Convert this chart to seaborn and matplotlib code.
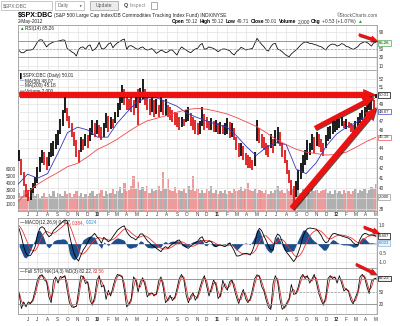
import matplotlib
matplotlib.use("Agg")
import numpy as np
import pandas as pd
import matplotlib.pyplot as plt
import matplotlib.dates as mdates
import matplotlib.ticker as mticker
import matplotlib.patheffects as pe
from matplotlib.patches import Rectangle, FancyArrowPatch
import seaborn as sns

# ---------------- data (weekly samples) ----------------
week_start, week_end = "2009-05-06", "2012-05-02"
month_start, month_end = "2009-05-01", "2012-05-01"

price_high = [
    43.8, 42.9, 41.6, 40.4, 39.8, 40.0, 40.5, 41.1, 42.1, 43.1,
    43.8, 43.6, 43.1, 43.6, 44.6, 44.8, 45.6, 46.0, 47.2, 48.3,
    49.8, 48.5, 47.6, 46.8, 45.8, 44.9, 43.8, 45.2, 45.0, 45.6,
    45.4, 46.2, 47.1, 46.8, 47.1, 46.6, 46.3, 46.8, 47.9, 47.6,
    47.5, 47.2, 48.0, 49.1, 50.0, 51.2, 50.7, 50.2, 49.6, 49.8,
    49.4, 50.3, 50.8, 50.9, 52.0, 50.7, 50.2, 49.6, 50.2, 49.4,
    49.5, 48.9, 49.8, 49.4, 49.5, 48.9, 48.6, 48.3, 48.0, 47.9,
    47.4, 47.5, 47.2, 48.3, 48.6, 47.9, 47.4, 47.1, 46.8, 47.0,
    48.6, 47.8, 47.4, 47.0, 47.3, 47.0, 47.1, 46.8, 46.9, 46.6,
    46.8, 47.3, 46.9, 46.8, 46.2, 45.2, 44.6, 44.6, 44.2, 43.5,
    43.3, 43.1, 42.8, 43.6, 47.1, 46.2, 45.6, 45.2, 44.6, 44.4,
    45.6, 45.0, 46.0, 46.3, 45.8, 44.6, 43.8, 42.8, 41.8, 40.8,
    40.2, 40.7, 41.8, 42.5, 43.3, 43.8, 44.9, 44.6, 45.6, 45.2,
    45.8, 45.6, 45.0, 44.6, 45.4, 46.3, 46.4, 47.1, 47.0, 47.4,
    47.2, 47.4, 47.0, 47.2, 46.9, 46.8, 46.5, 47.0, 47.5, 47.9,
    48.3, 48.6, 49.1, 49.4, 50.0, 49.4, 50.12]
price_low = [
    42.7, 41.3, 40.2, 39.1, 38.8, 38.9, 39.5, 40.0, 40.5, 41.6,
    42.5, 42.3, 41.8, 42.2, 43.1, 43.2, 43.9, 44.4, 45.6, 46.4,
    47.9, 47.0, 46.2, 45.2, 44.2, 43.1, 42.5, 43.6, 43.8, 44.2,
    44.0, 44.8, 45.4, 45.2, 45.6, 45.2, 44.9, 45.2, 46.2, 45.8,
    46.1, 46.2, 46.8, 47.4, 48.3, 49.1, 48.9, 48.3, 48.3, 48.0,
    47.7, 48.5, 46.6, 49.1, 49.6, 48.9, 48.3, 47.7, 48.0, 47.4,
    47.8, 47.4, 48.0, 47.7, 47.6, 47.4, 47.1, 46.9, 46.5, 46.3,
    46.0, 46.3, 46.4, 46.9, 47.0, 46.4, 46.0, 45.6, 45.4, 45.5,
    46.4, 46.0, 46.2, 46.0, 46.0, 45.8, 45.8, 45.6, 45.6, 45.5,
    45.4, 45.6, 45.1, 45.2, 44.9, 43.8, 43.1, 43.2, 42.8, 42.3,
    42.0, 42.0, 41.8, 42.2, 44.8, 44.6, 44.0, 43.8, 43.3, 43.1,
    44.0, 43.5, 44.2, 44.6, 44.2, 43.1, 42.5, 41.4, 40.5, 39.3,
    38.2, 39.1, 39.8, 40.9, 41.5, 42.3, 42.8, 43.3, 43.8, 43.5,
    44.2, 44.1, 43.6, 43.2, 44.0, 44.8, 45.0, 45.6, 45.8, 46.0,
    46.2, 46.4, 46.2, 46.1, 46.2, 45.8, 45.5, 45.9, 46.4, 46.8,
    47.1, 47.5, 47.9, 48.3, 48.3, 48.4, 49.71]
volume = [
    2600, 2200, 3000, 2400, 2800, 2000, 2600, 2200, 2400, 1800,
    2200, 2600, 2000, 2400, 2200, 2800, 2000, 2600, 2400, 2200,
    2800, 2400, 2600, 2000, 2400, 2800, 2200, 2600, 2000, 2400,
    2200, 2600, 2800, 2200, 2400, 2600, 3000, 2200, 2800, 2400,
    2600, 3200, 2400, 2800, 3400, 2600, 4000, 2800, 3000, 3600,
    5000, 3200, 4200, 3000, 3400, 2800, 3600, 2600, 3200, 2800,
    3000, 3600, 2800, 5500, 3200, 4500, 3000, 2800, 3400, 2600,
    3000, 2800, 3200, 2600, 3600, 3000, 5000, 2800, 3200, 2600,
    3000, 2600, 3200, 2800, 3500, 2600, 3000, 2400, 2800, 2600,
    3000, 2400, 2800, 2600, 3200, 2800, 3000, 3400, 2800, 3200,
    4000, 3000, 2800, 3200, 2600, 3000, 2800, 2600, 3000, 2400,
    2800, 2600, 3000, 3600, 2800, 3000, 2600, 3200, 2800, 3000,
    3200, 2800, 3000, 2600, 3200, 2800, 3000, 2600, 3600, 2800,
    3000, 2600, 2800, 3000, 3200, 2600, 2800, 2400, 3000, 2600,
    2800, 2400, 3000, 2600, 2800, 2400, 2800, 3200, 2600, 3000,
    2800, 3200, 2600, 3000, 3400, 3200, 3800]
rsi = [
    46, 41, 41, 46, 47.5, 47.5, 49, 57, 67, 72,
    72, 64, 55, 61, 64, 67, 68, 69, 70, 72,
    71, 51, 47.5, 43, 40, 33, 49, 54, 55, 49,
    57, 60, 46, 49, 55, 66, 51, 50, 55, 62,
    65, 53, 60, 65, 68, 72, 74, 49, 57, 58,
    55, 51, 49, 53, 55, 50, 47.5, 49, 51, 46,
    39.5, 43, 47.5, 45, 41, 43, 47.5, 47.5, 41, 35.5,
    47.5, 55, 51, 47.5, 43.5, 41, 46, 50, 51.5, 59,
    63.5, 49, 51, 55, 53, 51.5, 47.5, 43.5, 47.5, 50,
    50, 48, 46, 39.5, 35.5, 43.5, 47.5, 54, 51.5, 47.5,
    49, 50, 51.5, 63.5, 75.6, 68, 61, 55.5, 47.5, 45,
    55.5, 62, 63.5, 50, 47.5, 43.5, 38, 34, 31.4, 38,
    43, 47.5, 53, 59, 64, 67, 66, 63.5, 63, 61,
    59.6, 57, 55.5, 51.5, 47.5, 55.5, 60, 62, 61, 57,
    59, 63, 61, 56, 55, 51.5, 49, 52, 55.5, 62,
    65, 67.6, 66, 62, 57, 65, 65.26]
macd = [
    0.8, 0.37, -0.16, -0.52, -0.66, -0.63, -0.43, -0.16, 0.46, 0.82,
    0.91, 0.82, 0.55, 0.37, 0.46, 0.7, 0.82, 0.95, 1.05, 1.18,
    1.27, 1.23, 0.46, -0.07, -0.52, -0.79, -0.93, -0.61, -0.34, -0.16,
    0.07, 0.29, 0.41, 0.55, 0.37, 0.23, 0.02, 0.34, 0.23, 0.1,
    0.2, 0.37, 0.55, 0.73, 0.82, 0.91, 0.95, 0.64, 0.46, 0.34,
    0.29, 0.2, 0.34, 0.52, 0.52, 0.34, 0.16, 0.05, -0.07, -0.16,
    -0.25, -0.34, -0.43, -0.25, -0.16, -0.25, -0.12, -0.02, 0.05, 0.16,
    0.2, 0.02, -0.09, -0.2, -0.25, -0.12, -0.04, 0.05, 0.12, 0.29,
    0.37, 0.1, 0.05, 0.16, 0.1, -0.07, -0.16, -0.11, -0.07, -0.12,
    -0.16, -0.07, 0.02, -0.16, -0.38, -0.66, -0.66, -0.61, -0.55, -0.52,
    -0.55, -0.61, -0.38, -0.02, 0.55, 0.82, 0.7, 0.41, 0.16, -0.12,
    -0.34, -0.34, 0.29, 0.52, 0.41, 0.1, -0.25, -0.48, -0.63, -0.8,
    -0.96, -0.79, -0.48, -0.12, 0.34, 0.64, 0.8, 0.84, 0.82, 0.8,
    0.77, 0.62, 0.45, 0.2, 0.05, 0.1, 0.34, 0.52, 0.55, 0.5,
    0.46, 0.41, 0.37, 0.34, 0.29, 0.2, 0.05, -0.04, -0.07, 0.23,
    0.46, 0.55, 0.52, 0.45, 0.48, 0.45, 0.407]
macd_signal = [
    0.95, 0.8, 0.55, 0.25, -0.05, -0.28, -0.4, -0.38, -0.2, 0.1,
    0.38, 0.58, 0.66, 0.6, 0.55, 0.56, 0.62, 0.72, 0.82, 0.92,
    1.03, 1.12, 1.0, 0.7, 0.35, 0.0, -0.35, -0.55, -0.55, -0.45,
    -0.3, -0.12, 0.05, 0.2, 0.3, 0.33, 0.28, 0.25, 0.24, 0.2,
    0.18, 0.22, 0.3, 0.42, 0.55, 0.68, 0.78, 0.78, 0.7, 0.58,
    0.48, 0.38, 0.33, 0.36, 0.42, 0.42, 0.36, 0.27, 0.16, 0.05,
    -0.05, -0.15, -0.25, -0.3, -0.28, -0.27, -0.23, -0.16, -0.08, 0.0,
    0.08, 0.1, 0.06, -0.02, -0.1, -0.15, -0.14, -0.09, -0.03, 0.06,
    0.15, 0.18, 0.16, 0.14, 0.13, 0.08, 0.0, -0.06, -0.08, -0.1,
    -0.12, -0.11, -0.08, -0.09, -0.16, -0.3, -0.42, -0.5, -0.55, -0.56,
    -0.55, -0.56, -0.52, -0.42, -0.2, 0.08, 0.3, 0.42, 0.42, 0.3,
    0.15, 0.0, 0.02, 0.12, 0.22, 0.22, 0.12, -0.05, -0.22, -0.4,
    -0.58, -0.7, -0.7, -0.58, -0.38, -0.1, 0.18, 0.4, 0.56, 0.66,
    0.72, 0.72, 0.66, 0.55, 0.4, 0.28, 0.25, 0.3, 0.38, 0.43,
    0.46, 0.46, 0.44, 0.41, 0.37, 0.32, 0.24, 0.14, 0.05, 0.05,
    0.14, 0.26, 0.36, 0.41, 0.43, 0.42, 0.384]
sto_k = [
    45, 10, 26, 14, 26, 22, 32, 54, 79, 89,
    91, 79, 74, 38, 24, 78, 86, 71, 87, 84,
    89, 54, 24, 14, 13, 16, 54, 89, 86, 70,
    74, 30, 18, 38, 78, 89, 62, 66, 32, 54,
    40, 62, 82, 92, 89, 86, 54, 14, 21, 34,
    86, 78, 50, 74, 84, 66, 38, 46, 48, 40,
    46, 76, 86, 60, 24, 32, 42, 29, 37, 58,
    82, 92, 79, 42, 24, 40, 48, 30, 40, 60,
    78, 89, 63, 40, 60, 79, 66, 34, 42, 78,
    62, 54, 74, 79, 58, 37, 22, 42, 56, 34,
    24, 34, 56, 82, 91, 87, 63, 52, 30, 13,
    8, 70, 89, 74, 32, 8, 14, 24, 34, 68,
    44, 46, 62, 84, 92, 82, 89, 71, 81, 92,
    71, 46, 30, 18, 38, 82, 89, 82, 86, 71,
    89, 70, 52, 58, 50, 30, 21, 37, 50, 86,
    92, 84, 63, 46, 76, 81, 82.22]
sto_d = [
    50, 28, 18, 20, 20, 24, 27, 43, 66, 84,
    90, 85, 77, 56, 31, 51, 82, 79, 79, 86,
    87, 72, 39, 19, 14, 15, 35, 72, 88, 78,
    72, 52, 24, 28, 58, 84, 76, 64, 49, 43,
    47, 51, 72, 87, 91, 88, 70, 34, 18, 28,
    60, 82, 64, 62, 79, 75, 52, 42, 47, 44,
    43, 61, 81, 73, 42, 28, 37, 36, 33, 48,
    70, 87, 86, 61, 33, 32, 44, 39, 35, 50,
    69, 84, 76, 52, 50, 70, 73, 50, 38, 60,
    70, 58, 64, 77, 69, 48, 30, 32, 49, 45,
    29, 29, 45, 69, 87, 89, 75, 58, 41, 22,
    11, 39, 80, 82, 53, 20, 11, 19, 29, 51,
    56, 45, 54, 73, 88, 87, 86, 80, 76, 87,
    82, 59, 38, 24, 28, 60, 86, 86, 84, 79,
    80, 80, 61, 55, 54, 40, 26, 29, 44, 68,
    89, 88, 74, 55, 61, 79, 83.56]
# monthly samples of the moving averages
ma50 = [40.3, 41.35, 40.95, 41.4, 43.45, 45.7, 46.3, 46.0, 45.2, 45.2,
        46.7, 48.0, 49.2, 49.7, 49.7, 49.2, 48.7, 47.9, 47.4, 47.0,
        46.6, 46.3, 45.4, 44.2, 43.25, 44.1, 44.6, 44.4, 41.85, 41.4,
        42.5, 44.2, 45.5, 46.3, 46.8, 47.5, 48.07]
ma200 = [38.65, 39.6, 40.35, 40.95, 41.5, 42.1, 42.45, 43.1, 43.9, 44.4,
         44.95, 45.7, 46.4, 47.0, 47.3, 47.63, 48.0, 48.3, 48.45, 48.35,
         48.1, 47.8, 47.4, 46.9, 46.4, 45.7, 44.95, 44.4, 43.9, 43.6,
         43.45, 43.3, 43.35, 43.6, 44.1, 44.7, 45.18]

month_letters = ["J", "F", "M", "A", "M", "J", "J", "A", "S", "O", "N", "D"]
price_ticks = [38, 39, 40, 41, 42, 43, 44, 45, 46, 47, 48, 49, 50, 51, 52]
price_hidden = [39, 45, 48, 50]          # covered by the value boxes
volume_ticks = [1000, 2000, 3000, 4000, 5000, 6000]
rsi_ticks = [10, 30, 50, 70, 90]
rsi_hidden = [70]
macd_ticks = [-1.0, -0.5, 0.0, 0.5, 1.0]
macd_hidden = [0.0, 0.5]
sto_ticks = [20, 50, 80]
sto_hidden = [80]

# ---------------- figure ----------------
sns.set_theme(style="white")
plt.rcParams["font.family"] = ["Liberation Sans", "DejaVu Sans"]

weeks = pd.date_range(week_start, week_end, freq="W-WED")
months = pd.date_range(month_start, month_end, freq="MS")
df = pd.DataFrame({"date": weeks, "high": price_high, "low": price_low,
                   "volume": volume, "rsi": rsi, "macd": macd,
                   "signal": macd_signal, "k": sto_k, "d": sto_d})
df["hist"] = df["macd"] - df["signal"]
mf = pd.DataFrame({"date": months, "ma50": ma50, "ma200": ma200})

W, H = 400, 326
fig = plt.figure(figsize=(W / 100, H / 100), dpi=100)
fig.patch.set_facecolor("white")
L, R = 17.5, 377.0
TICK = 3.3


def rect(top, bottom):
    return [L / W, 1 - bottom / H, (R - L) / W, (bottom - top) / H]


def labels(ticks, hidden, fmt="%g"):
    return ["" if t in hidden else fmt % t for t in ticks]


ax_r = fig.add_axes(rect(25, 69.5))
ax_v = fig.add_axes(rect(69.5, 211), sharex=ax_r)
ax_p = fig.add_axes(rect(69.5, 211), sharex=ax_r)
ax_m = fig.add_axes(rect(218, 267.7), sharex=ax_r)
ax_s = fig.add_axes(rect(267.7, 314), sharex=ax_r)
ax_p.patch.set_alpha(0)

grid_months = months[1:]
for ax in (ax_r, ax_v, ax_p, ax_m, ax_s):
    for sp in ax.spines.values():
        sp.set_color("#9a9a9a")
        sp.set_linewidth(0.6)
    ax.set_xticks(grid_months)
    ax.tick_params(axis="x", length=0, labelbottom=False)
    ax.tick_params(axis="y", length=0, labelsize=TICK, pad=1.5, colors="#333333")
for ax in (ax_r, ax_p, ax_m, ax_s):
    ax.yaxis.tick_right()
    ax.grid(True, color="#e2e2e2", lw=0.5)
    ax.set_axisbelow(True)
ax_v.grid(False)
for sp in ax_p.spines.values():
    sp.set_visible(False)
ax_r.set_xlim(pd.Timestamp("2009-05-01"), pd.Timestamp("2012-05-05"))

# ---- RSI ----
sns.lineplot(data=df, x="date", y="rsi", ax=ax_r, color="black", lw=0.55)
ax_r.set_ylim(0.6, 107.8)
ax_r.set_yticks(rsi_ticks)
ax_r.set_yticklabels(labels(rsi_ticks, rsi_hidden))
for lv in (70, 30):
    ax_r.axhline(lv, color="#8c8c8c", lw=0.6)
ax_r.axhline(50, color="#999999", lw=0.5, ls=(0, (3, 2)))

# ---- volume ----
mid = (df["high"] + df["low"]) / 2
up = mid.diff().fillna(0) >= 0
vol_colors = np.where(up, "#a3a3a3", "#ec8a8a")
ax_v.bar(df["date"], df["volume"], width=7.2, color=vol_colors, alpha=0.85, lw=0)
ax_v.set_ylim(0, 20200)
ax_v.set_yticks(volume_ticks)
ax_v.set_yticklabels([str(t) for t in volume_ticks])
ax_v.tick_params(axis="y", labelsize=TICK, pad=1)

# ---- price ----
bar_colors = np.where(up, "black", "#dd1111")
ax_p.vlines(df["date"], df["low"], df["high"], colors=bar_colors, lw=1.25)
sns.lineplot(data=mf, x="date", y="ma50", ax=ax_p, color="#3535c0", lw=0.6)
sns.lineplot(data=mf, x="date", y="ma200", ax=ax_p, color="#f04848", lw=0.6)
ax_p.set_yscale("log")
ax_p.set_ylim(37.84, 53.2)
ax_p.yaxis.set_major_locator(mticker.FixedLocator(price_ticks))
ax_p.yaxis.set_major_formatter(mticker.FixedFormatter(labels(price_ticks, price_hidden)))
ax_p.yaxis.set_minor_locator(mticker.NullLocator())
ax_p.tick_params(axis="y", which="both", length=0, labelsize=TICK, pad=1.5, colors="#333333")

# ---- MACD ----
ax_m.fill_between(df["date"], df["hist"], 0, color="#1d4f8c", lw=0)
sns.lineplot(data=df, x="date", y="signal", ax=ax_m, color="#ee3333", lw=0.6)
sns.lineplot(data=df, x="date", y="macd", ax=ax_m, color="black", lw=0.6)
ax_m.set_ylim(-1.29, 1.375)
ax_m.set_yticks(macd_ticks)
ax_m.set_yticklabels(labels(macd_ticks, macd_hidden, "%.1f"))

# ---- STO ----
sns.lineplot(data=df, x="date", y="d", ax=ax_s, color="#dd2222", lw=0.6)
sns.lineplot(data=df, x="date", y="k", ax=ax_s, color="black", lw=0.55)
ax_s.set_ylim(-3, 108)
ax_s.set_yticks(sto_ticks)
ax_s.set_yticklabels(labels(sto_ticks, sto_hidden))
for lv in (80, 20):
    ax_s.axhline(lv, color="#8c8c8c", lw=0.6)
ax_s.axhline(50, color="#999999", lw=0.5, ls=(0, (3, 2)))

for ax in (ax_r, ax_v, ax_p, ax_m, ax_s):
    ax.set_xlabel("")
    ax.set_ylabel("")
    if ax.get_legend() is not None:
        ax.get_legend().remove()

# month labels
for ax, yoff in ((ax_p, -0.028), (ax_s, -0.12)):
    for d in grid_months:
        if d.month == 1:
            lab, fw = str(d.year)[2:], "bold"
        else:
            lab, fw = month_letters[d.month - 1], "normal"
        ax.text(d, yoff, lab, transform=ax.get_xaxis_transform(), ha="center",
                va="center", fontsize=TICK, fontweight=fw, color="#333333", clip_on=False)


# right-hand value boxes
def vbox(ax, y, s, ec, fc="white", tc="#222222"):
    ax.text(1.006, y, s, transform=ax.get_yaxis_transform(), fontsize=3.1,
            ha="left", va="center", color=tc, zorder=20, clip_on=False,
            bbox=dict(boxstyle="square,pad=0.2", fc=fc, ec=ec, lw=0.5))


vbox(ax_r, rsi[-1], "%.2f" % rsi[-1], "#55aa55", fc="#eef8ee")
vbox(ax_p, 50.01, "50.01", "black")
vbox(ax_p, ma50[-1], "%.2f" % ma50[-1], "#4444cc")
vbox(ax_p, ma200[-1], "%.2f" % ma200[-1], "#ee5555")
vbox(ax_v, 2000, "2,000", "#999999")
vbox(ax_m, macd[-1], "%.3f" % macd[-1], "black")
vbox(ax_m, macd[-1] - macd_signal[-1], "%.3f" % (macd[-1] - macd_signal[-1]), "#8ab4e0", fc="#eef4fb", tc="#3a6ea5")
vbox(ax_s, sto_k[-1], "%.2f" % sto_k[-1], "black", fc="#eeeeee")

# ---------------- header & toolbar ----------------
renderer = fig.canvas.get_renderer()


def frect(x0, y0, x1, y1, **kw):
    fig.patches.append(Rectangle((x0 / W, 1 - y1 / H), (x1 - x0) / W, (y1 - y0) / H,
                                 transform=fig.transFigure, **kw))


def ftext(x, y, s, **kw):
    kw.setdefault("va", "center")
    return fig.text(x / W, 1 - y / H, s, **kw)


def seq_text(x, y, parts, size, gap=1.2):
    for s, c, w in parts:
        t = ftext(x, y, s, fontsize=size, color=c, fontweight=w, ha="left")
        bb = t.get_window_extent(renderer)
        x = bb.x1 + gap
    return x


frect(0.5, 1, 52, 10, fc="white", ec="#b0b0b0", lw=0.5)
ftext(2.5, 5.7, "$SPX:DBC", fontsize=3.6, color="#666666")
frect(55, 1, 84, 10, fc="white", ec="#b0b0b0", lw=0.5)
ftext(58, 5.7, "Daily", fontsize=3.6, color="#666666")
ftext(78, 5.7, "▼", fontsize=2.4, color="#333333")
frect(90, 1, 118, 10, fc="#ececec", ec="#9a9a9a", lw=0.5)
ftext(104, 5.7, "Update", fontsize=3.6, color="#555555", ha="center")
ftext(124, 5.7, "Q", fontsize=3.8, color="#333333", fontweight="bold")
ftext(129, 5.7, "Inspect", fontsize=3.6, color="#888888")
frect(150.5, 2, 157, 9, fc="white", ec="#888888", lw=0.5)

xx = seq_text(18, 15.5, [("$SPX:DBC", "black", "bold")], 5.0, gap=1.0)
ftext(xx, 15.8, "(S&P 500 Large Cap Index/DB Commodities Tracking Index Fund) INDX/NYSE",
      fontsize=3.5, color="#222222")
ftext(378, 15.8, "©StockCharts.com", fontsize=3.5, color="#555555", ha="right")
ftext(18, 21.8, "2-May-2012", fontsize=3.4, color="#222222")
seq_text(172, 21.8, [("Open", "black", "bold"), ("50.12", "#333333", "normal"),
                     ("High", "black", "bold"), ("50.12", "#333333", "normal"),
                     ("Low", "black", "bold"), ("49.71", "#333333", "normal"),
                     ("Close", "black", "bold"), ("50.01", "#333333", "normal"),
                     ("Volume", "black", "bold"), ("2,000", "#333333", "normal"),
                     ("Chg", "black", "bold"), ("+0.53 (+1.07%)", "#333333", "normal"),
                     ("▲", "#22aa22", "normal")], 3.5, gap=1.3)

# panel legends
seq_text(19.5, 28.5, [("▲", "#2a8a2a", "normal"), ("RSI(14) 65.26", "#222222", "normal")], 3.3, gap=0.6)
seq_text(19.5, 76, [("▌", "black", "normal"), ("$SPX:DBC (Daily) 50.01", "#222222", "normal")], 3.3, gap=0.6)
seq_text(19.5, 81, [("—", "#3535c0", "normal"), ("MA(50) 48.07", "#222222", "normal")], 3.3, gap=0.4)
seq_text(19.5, 86, [("—", "#f04848", "normal"), ("MA(200) 45.18", "#222222", "normal")], 3.3, gap=0.4)
seq_text(19.5, 91, [("▬", "#999999", "normal"), ("Volume 2,000", "#222222", "normal")], 3.3, gap=0.4)
seq_text(19.5, 222.5, [("—", "black", "normal"), ("MACD(12,26,9) 0.407,", "#222222", "normal"),
                       ("0.384,", "#ee3333", "normal"), ("0.024", "#3a8ad0", "normal")], 3.3, gap=0.8)
seq_text(19.5, 271.5, [("—", "black", "normal"), ("Full STO %K(14,3) %D(3) 82.22,", "#222222", "normal"),
                       ("83.56", "#ee3333", "normal")], 3.3, gap=0.8)


# ---------------- red annotation arrows ----------------
def to_fig(ax, x, y):
    disp = ax.transData.transform((mdates.date2num(pd.Timestamp(x)), y))
    return fig.transFigure.inverted().transform(disp)


big = "simple,head_width=0.78,head_length=0.9,tail_width=0.38"
mid_style = "simple,head_width=0.72,head_length=0.85,tail_width=0.32"
small = "simple,head_width=0.45,head_length=0.5,tail_width=0.2"
arrows = [
    (ax_p, ("2009-05-06", 50.1), ("2012-05-01", 50.1), big),
    (ax_p, ("2011-10-28", 46.2), ("2012-04-27", 49.8), mid_style),
    (ax_p, ("2011-08-18", 38.1), ("2012-05-04", 48.6), big),
    (ax_r, ("2012-03-10", 85), ("2012-05-07", 70), small),
    (ax_m, ("2012-03-25", 0.9), ("2012-05-13", 0.57), small),
    (ax_s, ("2012-03-01", 116.8), ("2012-05-05", 92), small),
]
for ax, a, b, st in arrows:
    pa = to_fig(ax, *a)
    pb = to_fig(ax, *b)
    arr = FancyArrowPatch(pa, pb, transform=fig.transFigure, arrowstyle=st,
                          mutation_scale=10, color="#ee1111", lw=0, shrinkA=0, shrinkB=0,
                          zorder=30)
    arr.set_path_effects([pe.withSimplePatchShadow(offset=(0.6, -0.8),
                                                   shadow_rgbFace="#330000", alpha=0.7)])
    fig.add_artist(arr)

fig.savefig("out.png", dpi=100)
